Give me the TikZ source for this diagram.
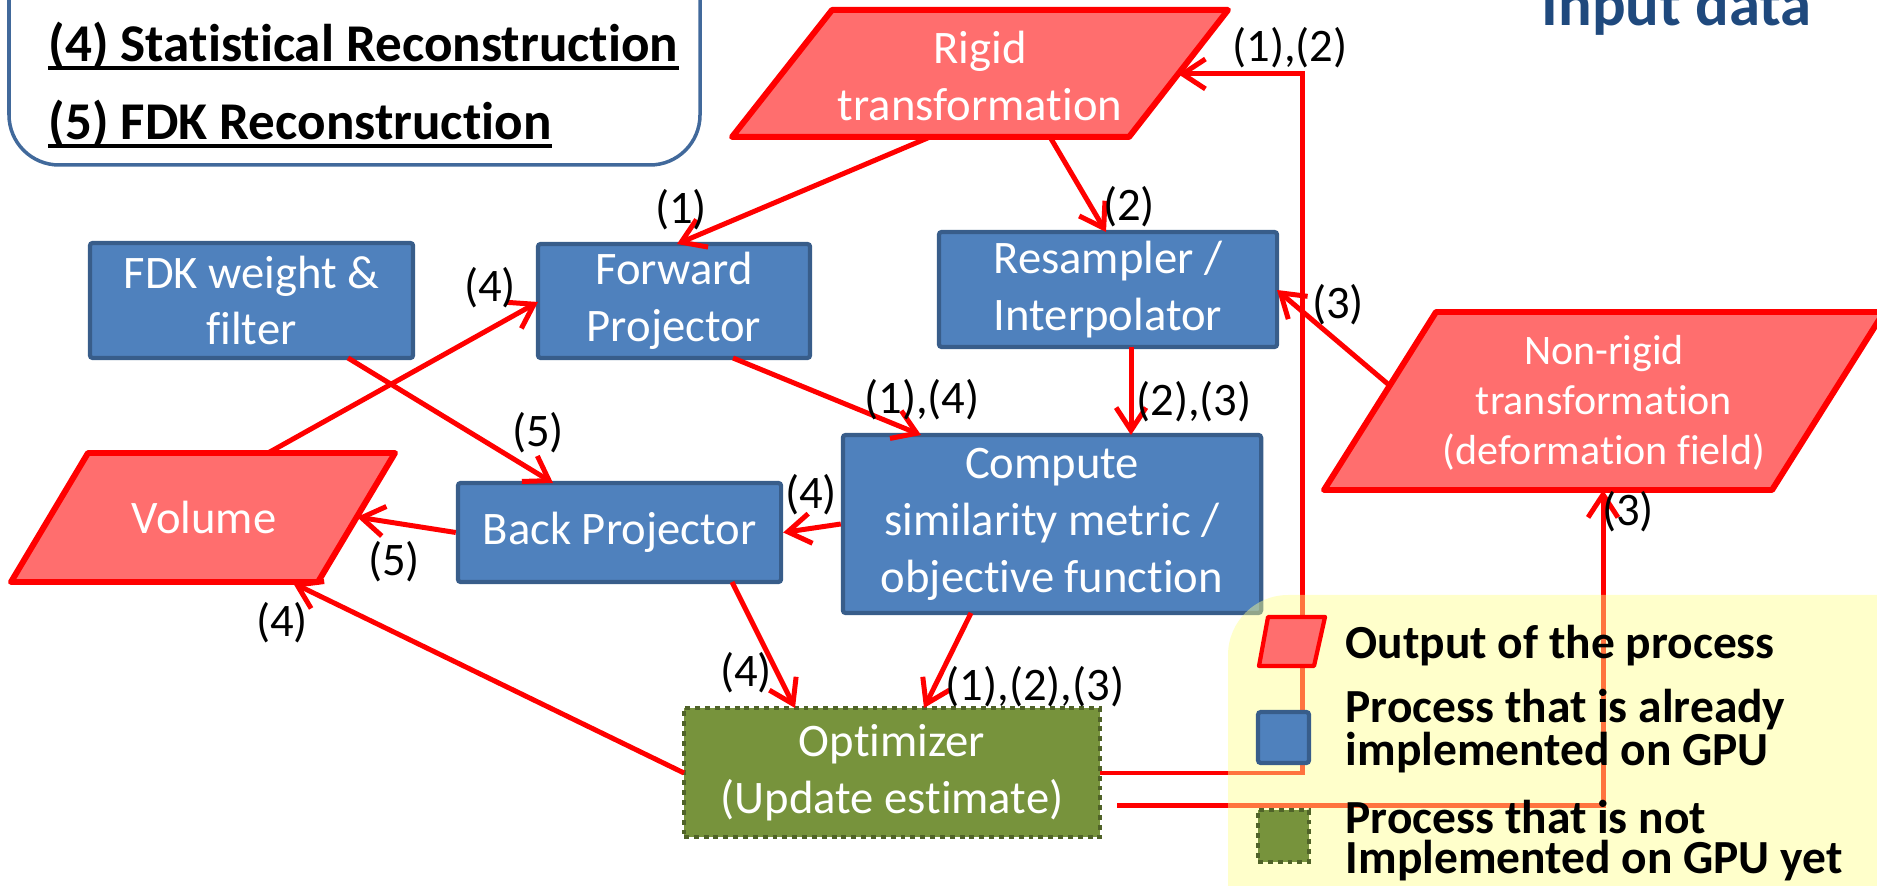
\documentclass[tikz,border=0pt]{standalone}
\usepackage{fontspec}
\setmainfont{Carlito}[Ligatures=NoCommon]
\usetikzlibrary{arrows.meta}
\definecolor{myred}{RGB}{255,0,0}
\definecolor{outfill}{RGB}{255,110,110}
\definecolor{bfill}{RGB}{79,129,189}
\definecolor{bdraw}{RGB}{56,93,138}
\definecolor{gfill}{RGB}{119,147,60}
\definecolor{gdraw}{RGB}{79,98,40}
\definecolor{legfill}{RGB}{255,255,140}
\definecolor{titblue}{RGB}{31,73,125}
\definecolor{frameblue}{RGB}{65,105,155}
\newcommand{\mainfs}{\fontsize{13.26pt}{16.2pt}\selectfont}
\newcommand{\nrfs}{\fontsize{11.95pt}{14.3pt}\selectfont}
\newcommand{\titfs}{\fontsize{15.1pt}{18pt}\selectfont\bfseries}
\newcommand{\legfs}{\fontsize{13.5pt}{16pt}\selectfont\bfseries}
\newcommand{\inpfs}{\fontsize{17.85pt}{21pt}\selectfont\bfseries}
\tikzset{
  proc/.style={draw=bdraw, fill=bfill, line width=1.2pt, rounded corners=0.8pt, text=white, align=center, inner sep=0pt, font=\mainfs},
  todo/.style={draw=gdraw, fill=gfill, line width=1.2pt, dash pattern=on 1.4pt off 1.4pt, text=white, align=center, inner sep=0pt, font=\mainfs},
  outshape/.style={draw=myred, fill=outfill, line width=1.7pt, line join=round},
  outtext/.style={text=white, align=center, inner sep=0pt, font=\mainfs},
  arr/.style={draw=myred, line width=1.42pt, -{Straight Barb[length=6.5pt,width=8.5pt]}},
  lbl/.style={inner sep=0pt, font=\mainfs, text=black},
  legtext/.style={inner sep=0pt, anchor=base west, font=\legfs, text=black},
  tittext/.style={inner sep=0pt, anchor=base west, font=\titfs, text=black},
}
\begin{document}
\begin{tikzpicture}[x=0.01cm,y=-0.01cm]
\useasboundingbox (0,0) rectangle (1877,886);

% title frame
\draw[draw=frameblue, line width=1pt, rounded corners=0.5cm] (9,-60) rectangle (700,165);
\node[tittext] (t4) at (48,62) {(4) Statistical Reconstruction};
\node[tittext] (t5) at (48,140) {(5) FDK Reconstruction};
\draw[line width=1.2pt] ([yshift=-1.7pt]t4.base west) -- ([yshift=-1.7pt]t4.base east);
\draw[line width=1.2pt] ([yshift=-1.7pt]t5.base west) -- ([yshift=-1.7pt]t5.base east);

\node[inner sep=0pt, anchor=base west, font=\inpfs, text=titblue] (inp) at (1541,26) {Input data};

% output shapes
\draw[outshape] (832,10) -- (1228,10) -- (1129,137) -- (732,137) -- cycle;
\node[outtext] (rigid) at (980,76) {Rigid\\transformation};
\draw[outshape] (1436,312) -- (1884,312) -- (1772,490) -- (1324,490) -- cycle;
\node[outtext, font=\nrfs] (nonrigid) at (1604,403) {Non-rigid\\transformation\\(deformation field)};
\draw[outshape] (88,453) -- (395,453) -- (318,582) -- (11,582) -- cycle;
\node[outtext] (vol) at (204,517) {Volume};

% process boxes
\node[proc, minimum width=3.23cm, minimum height=1.15cm] (fdk) at (251.5,300.5) {FDK weight \&\\filter};
\node[proc, minimum width=2.72cm, minimum height=1.14cm] (fwd) at (674,301) {Forward\\Projector};
\node[proc, minimum width=3.38cm, minimum height=1.15cm] (res) at (1108,289.5) {Resampler /\\Interpolator};
\node[proc, minimum width=4.18cm, minimum height=1.78cm] (comp) at (1052,524) {Compute\\similarity metric /\\objective function};
\node[proc, minimum width=3.23cm, minimum height=0.99cm] (back) at (619.5,532.5) {Back Projector};
\node[todo, minimum width=4.16cm, minimum height=1.29cm] (opt) at (892,772.5) {Optimizer\\(Update estimate)};

% connector end points on edges
\coordinate (rigidA) at (930,137);
\coordinate (rigidB) at (1050,137);
\coordinate (rigidR) at (1178,74);
\coordinate (fwdN) at (677,244);
\coordinate (fwdW) at (538,302);
\coordinate (fwdS) at (733,358);
\coordinate (fdkS) at (348,358);
\coordinate (volN) at (268,453);
\coordinate (volE) at (357,517);
\coordinate (volS) at (293,583);
\coordinate (resN) at (1106,232);
\coordinate (resS) at (1131,347);
\coordinate (resE) at (1277,290);
\coordinate (compNa) at (921,435);
\coordinate (compNb) at (1131,435);
\coordinate (compS) at (971,613);
\coordinate (backN) at (553,483);
\coordinate (backS) at (732,582);
\coordinate (optNa) at (795,708);
\coordinate (optNb) at (924,708);
\coordinate (optW) at (684,773);
\coordinate (optE) at (1100,773);
\coordinate (optE2) at (1117,805);
\coordinate (nrW) at (1389,385);
\coordinate (nrS) at (1603,490);
\coordinate (turnA) at (1302,773);
\coordinate (turnB) at (1302,74);
\coordinate (turnC) at (1603,805);

% connectors
\draw[arr] (rigidA) -- (fwdN);
\draw[arr] (rigidB) -- (resN);
\draw[arr] (volN) -- (fwdW);
\draw[arr] (fdkS) -- (backN);
\draw[arr] (fwdS) -- (compNa);
\draw[arr] (resS) -- (compNb);
\draw[arr] (nrW) -- (resE);
\draw[arr] (comp.west) -- (back.east);
\draw[arr] (back.west) -- (volE);
\draw[arr] (backS) -- (optNa);
\draw[arr] (compS) -- (optNb);
\draw[arr] (optW) -- (volS);
\draw[arr] (optE) -- (turnA) -- (turnB) -- (rigidR);
\draw[arr] (optE2) -- (turnC) -- (nrS);

% labels
\node[lbl] (a1) at (681,210) {(1)};
\node[lbl] (a2) at (1129,207) {(2)};
\node[lbl] (a3) at (490,288) {(4)};
\node[lbl] (a4) at (538,433) {(5)};
\node[lbl] (a5) at (394,562) {(5)};
\node[lbl] (a6) at (282,623) {(4)};
\node[lbl] (a7) at (811,495) {(4)};
\node[lbl] (a8) at (922,400) {(1),(4)};
\node[lbl] (a9) at (1194,402) {(2),(3)};
\node[lbl] (a10) at (746,673) {(4)};
\node[lbl] (a11) at (1035,687) {(1),(2),(3)};
\node[lbl] (a12) at (1290,48) {(1),(2)};
\node[lbl] (a13) at (1338,305) {(3)};
\node[lbl] (a14) at (1628,512) {(3)};

% legend
\fill[legfill, fill opacity=0.45, rounded corners=0.6cm] (1228,595) rectangle (1960,960);
\draw[outshape, line width=1.2pt] (1268,617) -- (1325,617) -- (1314,666) -- (1259,666) -- cycle;
\node[proc, minimum width=0.51cm, minimum height=0.51cm] (legb) at (1283.5,737.5) {};
\node[todo, minimum width=0.51cm, minimum height=0.52cm] (legg) at (1283.5,836) {};
\node[legtext] (lg1) at (1345,658) {Output of the process};
\node[legtext] (lg2) at (1345,722) {Process that is already};
\node[legtext] (lg3) at (1345,765) {implemented on GPU};
\node[legtext] (lg4) at (1345,833) {Process that is not};
\node[legtext] (lg5) at (1345,873) {Implemented on GPU yet};
\end{tikzpicture}
\end{document}
